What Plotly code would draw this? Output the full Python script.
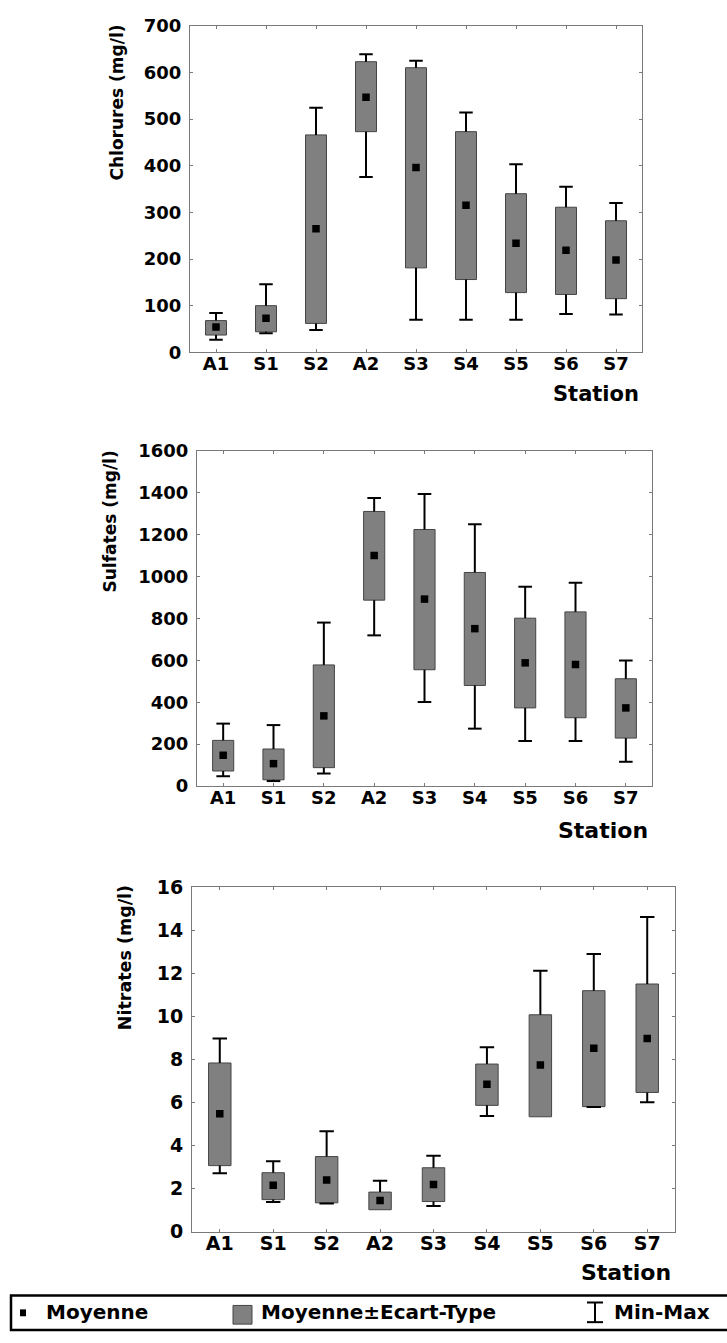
import plotly.graph_objects as go

# ---------------- data ----------------
stations = ["A1", "S1", "S2", "A2", "S3", "S4", "S5", "S6", "S7"]

chl_mean = [54, 73, 265, 547, 396, 315, 234, 219, 198]
chl_sd_low = [37, 44, 62, 473, 181, 156, 128, 124, 115]
chl_sd_high = [68, 100, 466, 623, 610, 473, 340, 311, 282]
chl_min = [27, 41, 48, 376, 70, 70, 70, 82, 81]
chl_max = [84, 146, 524, 639, 625, 514, 403, 355, 320]

sul_mean = [147, 107, 335, 1100, 892, 751, 588, 580, 373]
sul_sd_low = [72, 30, 88, 887, 555, 480, 373, 326, 229]
sul_sd_high = [218, 177, 578, 1310, 1224, 1019, 801, 831, 512]
sul_min = [47, 24, 60, 719, 401, 274, 215, 215, 116]
sul_max = [298, 291, 780, 1374, 1393, 1249, 951, 970, 599]

nit_mean = [5.48, 2.16, 2.40, 1.45, 2.19, 6.85, 7.75, 8.52, 8.98]
nit_sd_low = [3.07, 1.49, 1.34, 1.02, 1.40, 5.87, 5.34, 5.81, 6.47]
nit_sd_high = [7.84, 2.74, 3.49, 1.84, 2.97, 7.79, 10.08, 11.20, 11.51]
nit_min = [2.71, 1.38, 1.31, 1.02, 1.19, 5.37, 5.34, 5.79, 6.01]
nit_max = [8.98, 3.27, 4.67, 2.37, 3.53, 8.57, 12.13, 12.91, 14.63]

y_titles = ["Chlorures (mg/l)", "Sulfates (mg/l)", "Nitrates (mg/l)"]
x_title = "Station"
legend_labels = ["Moyenne", "Moyenne±Ecart-Type", "Min-Max"]

# ---------------- styling / layout ----------------
W, H = 727, 1343
FONT = "DejaVu Sans"
BOX_FILL = "#808080"
BOX_LINE = "#454545"
FRAME = "#7a7a7a"
CAP = 0.135
BOX_W = 0.42


def fx(p):
    return p / W


def fy(p):
    return 1 - p / H


panels = [
    dict(mean=chl_mean, lo=chl_sd_low, hi=chl_sd_high, mn=chl_min, mx=chl_max,
         yr=[0, 700], dt=100, frame=(190, 642, 15, 347), yt=(117, 93),
         st=(641, 389), tick=18, st_size=21, yt_size=17),
    dict(mean=sul_mean, lo=sul_sd_low, hi=sul_sd_high, mn=sul_min, mx=sul_max,
         yr=[0, 1600], dt=200, frame=(197, 652, 447, 788), yt=(110, 519),
         st=(650, 833), tick=18, st_size=22, yt_size=17),
    dict(mean=nit_mean, lo=nit_sd_low, hi=nit_sd_high, mn=nit_min, mx=nit_max,
         yr=[0, 16], dt=2, frame=(192, 675, 891, 1241), yt=(125, 963),
         st=(673, 1283), tick=19, st_size=22, yt_size=17.5),
]

fig = go.Figure()
annotations = []
xs = list(range(len(stations)))

for k, p in enumerate(panels, start=1):
    xa = "x" if k == 1 else f"x{k}"
    ya = "y" if k == 1 else f"y{k}"
    # boxes (mean ± sd)
    fig.add_trace(go.Bar(
        x=xs, y=[h - l for h, l in zip(p["hi"], p["lo"])], base=p["lo"],
        width=BOX_W, marker=dict(color=BOX_FILL, line=dict(color=BOX_LINE, width=1)),
        xaxis=xa, yaxis=ya, showlegend=False, hoverinfo="skip"))
    # whiskers (min-max)
    wx, wy = [], []
    for i in xs:
        wx += [i, i, None, i - CAP, i + CAP, None]
        wy += [p["hi"][i], p["mx"][i], None, p["mx"][i], p["mx"][i], None]
        if p["mn"][i] < p["lo"][i]:
            wx += [i, i, None, i - CAP, i + CAP, None]
            wy += [p["lo"][i], p["mn"][i], None, p["mn"][i], p["mn"][i], None]
    fig.add_trace(go.Scatter(
        x=wx, y=wy, mode="lines", line=dict(color="black", width=2),
        xaxis=xa, yaxis=ya, showlegend=False, hoverinfo="skip"))
    # means
    fig.add_trace(go.Scatter(
        x=xs, y=p["mean"], mode="markers",
        marker=dict(symbol="square", size=7.5, color="black"),
        xaxis=xa, yaxis=ya, showlegend=False, hoverinfo="skip"))

    x0, x1, y0, y1 = p["frame"]
    axis_common = dict(showline=True, mirror="ticks", linecolor=FRAME, linewidth=1,
                       ticks="inside", ticklen=3, tickcolor=FRAME, tickwidth=1,
                       showgrid=False, zeroline=False, fixedrange=True,
                       tickfont=dict(family=FONT, size=p["tick"], color="black", weight="bold"))
    fig.update_layout({
        ("xaxis" if k == 1 else f"xaxis{k}"): dict(
            domain=[fx(x0), fx(x1)], anchor=ya, range=[-0.52, 8.52],
            tickmode="array", tickvals=xs, ticktext=stations,
            ticklabelstandoff=-5, **axis_common),
        ("yaxis" if k == 1 else f"yaxis{k}"): dict(
            domain=[fy(y1), fy(y0)], anchor=xa, range=p["yr"],
            tick0=0, dtick=p["dt"], ticklabelstandoff=4, **axis_common),
    })
    annotations.append(dict(
        text=y_titles[k - 1], xref="paper", yref="paper", x=fx(p["yt"][0]), y=fy(p["yt"][1]),
        xanchor="center", yanchor="middle", textangle=-90, showarrow=False,
        font=dict(family=FONT, size=p["yt_size"], color="black", weight="bold")))
    annotations.append(dict(
        text=x_title, xref="paper", yref="paper", x=fx(p["st"][0]), y=fy(p["st"][1]),
        xanchor="right", yanchor="middle", showarrow=False,
        font=dict(family=FONT, size=p["st_size"], color="black", weight="bold")))

# ---------------- legend (drawn manually) ----------------
shapes = [
    dict(type="rect", xref="paper", yref="paper", x0=fx(11), x1=fx(740), y0=fy(1341), y1=fy(1306),
         line=dict(color="black", width=2.5), fillcolor="rgba(0,0,0,0)"),
    dict(type="rect", xref="paper", yref="paper", x0=fx(20), x1=fx(26), y0=fy(1327), y1=fy(1320),
         line=dict(width=0), fillcolor="black"),
    dict(type="rect", xref="paper", yref="paper", x0=fx(233), x1=fx(252), y0=fy(1335), y1=fy(1316),
         line=dict(color=BOX_LINE, width=1), fillcolor=BOX_FILL),
    dict(type="line", xref="paper", yref="paper", x0=fx(595), x1=fx(595), y0=fy(1333), y1=fy(1313),
         line=dict(color="black", width=2)),
    dict(type="line", xref="paper", yref="paper", x0=fx(587), x1=fx(603), y0=fy(1313), y1=fy(1313),
         line=dict(color="black", width=2)),
    dict(type="line", xref="paper", yref="paper", x0=fx(587), x1=fx(603), y0=fy(1333), y1=fy(1333),
         line=dict(color="black", width=2)),
]
for lbl, xpos in zip(legend_labels, [44, 259, 612]):
    annotations.append(dict(
        text=lbl, xref="paper", yref="paper", x=fx(xpos), y=fy(1323),
        xanchor="left", yanchor="middle", showarrow=False,
        font=dict(family=FONT, size=20, color="black", weight="bold")))

fig.update_layout(
    width=W, height=H, autosize=False,
    margin=dict(l=0, r=0, t=0, b=0),
    paper_bgcolor="white", plot_bgcolor="white",
    showlegend=False, bargap=0,
    annotations=annotations, shapes=shapes,
)

fig.write_html(
    "out.html",
    config={"displayModeBar": False, "staticPlot": True},
    post_script="document.body.style.margin='0';document.body.style.overflow='hidden';",
)
